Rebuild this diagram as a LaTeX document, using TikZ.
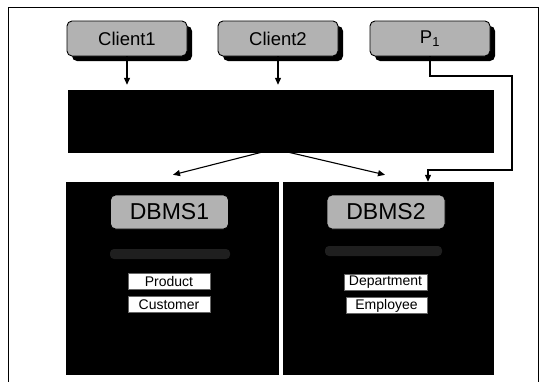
\documentclass[tikz,border=0pt]{standalone}
\usepackage{fontspec}
\setmainfont{Liberation Sans}
\usetikzlibrary{arrows.meta,shadows}
\begin{document}
\begin{tikzpicture}[x=1pt,y=-1pt,
  tab/.style={draw=black,line width=0.9pt,fill=black!30,rounded corners=5pt,
    inner sep=0pt,
    drop shadow={shadow xshift=5pt,shadow yshift=-5pt,fill=black,opacity=1}},
  client/.style={tab,minimum width=120pt,minimum height=35pt,font=\fontsize{18.5}{20}\selectfont},
  dbtag/.style={tab,minimum width=118pt,minimum height=34pt,font=\fontsize{23}{25}\selectfont},
  darkbox/.style={fill=black,draw=black,inner sep=0pt},
  relbox/.style={fill=white,draw=black!60,line width=0.4pt,inner sep=0pt,
    minimum height=16pt,font=\fontsize{14}{16}\selectfont},
  link/.style={line width=1.1pt,-{Triangle[width=6pt,length=7pt]}},
  smudge/.style={fill=black!88,draw=none,rounded corners=4pt}]
  \useasboundingbox (0,0) rectangle (547,381);
  \fill[white] (0,0) rectangle (547,381);

  % enclosing frame (its lower edge lies below the page)
  \draw[line width=0.9pt] (8,400) -- (8,7) -- (538,7) -- (538,400);

  % requesting programs
  \node[client] (c1) at (127,38.5) {Client1};
  \node[client] (c2) at (278,38.5) {Client2};
  \node[client] (p1) at (430,38.5) {P\textsubscript{1}};

  % middleware bar
  \node[darkbox,minimum width=425pt,minimum height=62pt] (bar) at (280.5,121) {};

  % database servers
  \node[darkbox,minimum width=212pt,minimum height=192pt] (d1) at (172,278) {};
  \node[darkbox,minimum width=210pt,minimum height=192pt] (d2) at (388,278) {};
  \fill[smudge] (110,249) rectangle (230,259);
  \fill[smudge] (325,246) rectangle (442,256);

  \node[dbtag] (t1) at (169.5,212) {DBMS1};
  \node[dbtag] (t2) at (386,212) {DBMS2};

  \node[relbox,minimum width=82pt] (r1) at (169,281) {Product};
  \node[relbox,minimum width=82pt] (r2) at (169,304.5) {Customer};
  \node[relbox,minimum width=83pt] (r3) at (385.5,282) {Department};
  \node[relbox,minimum width=81pt] (r4) at (386.5,305.5) {Employee};

  % connectors
  \draw[link] (c1.south) -- ([yshift=5pt]bar.north -| c1.south);
  \draw[link] (c2.south) -- ([yshift=5pt]bar.north -| c2.south);
  \draw[link] ([xshift=-7pt,yshift=3pt]bar.south) -- ([xshift=1pt,yshift=7pt]d1.north);
  \draw[link] ([xshift=-5pt,yshift=3pt]bar.south) -- ([xshift=-3pt,yshift=7pt]d2.north);
  \coordinate (k1) at (512,76);
  \coordinate (k2) at (512,170);
  \draw[link] (p1.south) |- (k1) -- (k2) -| ([xshift=40pt]d2.north);
\end{tikzpicture}
\end{document}
